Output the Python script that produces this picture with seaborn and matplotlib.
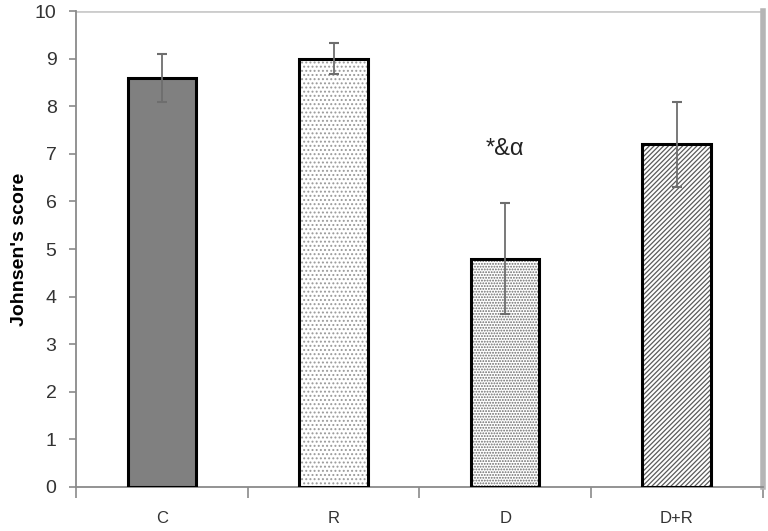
import matplotlib
matplotlib.use("Agg")
import matplotlib.pyplot as plt
from matplotlib.patches import Rectangle
import seaborn as sns
import pandas as pd
import numpy as np

categories = ["C", "R", "D", "D+R"]
means = [8.6, 9.0, 4.8, 7.2]
errors = [0.5, 0.33, 1.17, 0.9]
yticks = [0, 1, 2, 3, 4, 5, 6, 7, 8, 9, 10]
annotation = "*&α"

fills = ["#808080", "white", "white", "white"]
hatches = [None, "....", "......", "///////"]
hatch_colors = ["#808080", "#9a9a9a", "#6a6a6a", "#5a5a5a"]

sns.set_theme(style="white")
plt.rcParams["font.family"] = ["Liberation Sans", "DejaVu Sans"]
plt.rcParams["hatch.linewidth"] = 0.9

df = pd.DataFrame({"group": categories, "score": means})

fig = plt.figure(figsize=(7.68, 5.31), dpi=100)
ax = fig.add_axes([0.099, 0.083, 0.894, 0.896])

sns.barplot(data=df, x="group", y="score", order=categories, width=0.4,
            errorbar=None, ax=ax, color="white")

for p, fc, h, hc in zip(ax.patches, fills, hatches, hatch_colors):
    p.set_facecolor(fc)
    p.set_edgecolor(hc)
    p.set_linewidth(0)
    if h:
        p.set_hatch(h)
    outline = Rectangle(p.get_xy(), p.get_width(), p.get_height(), fill=False,
                        edgecolor="black", linewidth=2.2, zorder=3)
    ax.add_patch(outline)

xpos = np.arange(len(categories))
ax.errorbar(xpos, means, yerr=errors, fmt="none", ecolor="#6e6e6e",
            elinewidth=1.3, capsize=3.5, capthick=1.5, zorder=4)

ax.text(xpos[2], 7.1, annotation, ha="center", va="center", fontsize=17,
        color="#222222")

ax.set_xlim(-0.5, 3.5)
ax.set_ylim(0, 10)
ax.set_yticks(yticks)
ax.set_yticklabels([str(t) for t in yticks], fontsize=14, color="#333333")
ax.axhline(10, color="#cccccc", lw=2, zorder=1)

ax.set_xticks(xpos)
ax.set_xticklabels(categories, fontsize=12, color="#333333")
ax.set_xticks(np.arange(-0.5, 4.0, 1.0), minor=True)
ax.tick_params(axis="x", which="major", length=0, pad=17)
ax.tick_params(axis="x", which="minor", length=8, width=1.2, color="#8a8a8a", direction="out", bottom=True)
ax.tick_params(axis="y", length=5, width=1.2, color="#8a8a8a", direction="out", left=True, pad=9)

ax.set_xlabel("")
ax.set_ylabel("Johnsen's score", fontsize=14, fontweight="bold", color="black", labelpad=5)

for s in ["left", "bottom"]:
    ax.spines[s].set_color("#8a8a8a")
    ax.spines[s].set_linewidth(1.3)
ax.spines["top"].set_visible(False)
ax.spines["right"].set_color("#b5b5b5")
ax.spines["right"].set_linewidth(4)

fig.savefig("out.png", dpi=100)
